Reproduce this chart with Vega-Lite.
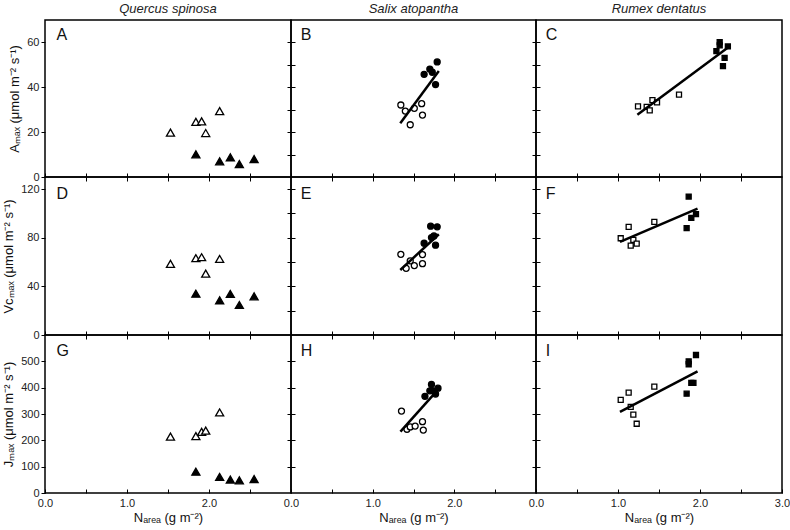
{
"$schema": "https://vega.github.io/schema/vega-lite/v6.json",
"padding": {"left": 1, "top": 2, "right": 0, "bottom": 0},
"background": "white",
"datasets": {
"d": [
{"p":"A","k":"o","x":1.53,"y":19.8},{"p":"A","k":"o","x":1.84,"y":24.6},{"p":"A","k":"o","x":1.91,"y":24.8},{"p":"A","k":"o","x":1.96,"y":19.6},{"p":"A","k":"o","x":2.13,"y":29.4},
{"p":"A","k":"f","x":1.84,"y":10.1},{"p":"A","k":"f","x":2.13,"y":7.0},{"p":"A","k":"f","x":2.26,"y":8.8},{"p":"A","k":"f","x":2.37,"y":5.8},{"p":"A","k":"f","x":2.55,"y":8.0},
{"p":"B","k":"o","x":1.345,"y":32.1},{"p":"B","k":"o","x":1.40,"y":29.4},{"p":"B","k":"o","x":1.46,"y":23.3},{"p":"B","k":"o","x":1.51,"y":30.6},{"p":"B","k":"o","x":1.60,"y":32.7},{"p":"B","k":"o","x":1.61,"y":27.6},
{"p":"B","k":"f","x":1.63,"y":45.8},{"p":"B","k":"f","x":1.70,"y":48.1},{"p":"B","k":"f","x":1.73,"y":46.7},{"p":"B","k":"f","x":1.77,"y":41.2},{"p":"B","k":"f","x":1.79,"y":51.3},
{"p":"B","k":"l","x":1.338,"y":24.0},{"p":"B","k":"l","x":1.81,"y":47.3},
{"p":"C","k":"o","x":1.244,"y":31.5},{"p":"C","k":"o","x":1.35,"y":31.3},{"p":"C","k":"o","x":1.387,"y":29.7},{"p":"C","k":"o","x":1.42,"y":34.3},{"p":"C","k":"o","x":1.476,"y":33.3},{"p":"C","k":"o","x":1.744,"y":36.7},
{"p":"C","k":"f","x":2.20,"y":56.1},{"p":"C","k":"f","x":2.24,"y":60.1},{"p":"C","k":"f","x":2.24,"y":58.7},{"p":"C","k":"f","x":2.34,"y":58.2},{"p":"C","k":"f","x":2.30,"y":53.1},{"p":"C","k":"f","x":2.28,"y":49.4},
{"p":"C","k":"l","x":1.236,"y":27.8},{"p":"C","k":"l","x":2.366,"y":58.4},
{"p":"D","k":"o","x":1.53,"y":58.5},{"p":"D","k":"o","x":1.84,"y":63.2},{"p":"D","k":"o","x":1.91,"y":64.0},{"p":"D","k":"o","x":1.96,"y":50.5},{"p":"D","k":"o","x":2.13,"y":62.6},
{"p":"D","k":"f","x":1.84,"y":34.0},{"p":"D","k":"f","x":2.13,"y":28.6},{"p":"D","k":"f","x":2.26,"y":33.8},{"p":"D","k":"f","x":2.37,"y":24.7},{"p":"D","k":"f","x":2.55,"y":31.8},
{"p":"E","k":"o","x":1.345,"y":66.4},{"p":"E","k":"o","x":1.41,"y":54.9},{"p":"E","k":"o","x":1.46,"y":61.0},{"p":"E","k":"o","x":1.51,"y":57.1},{"p":"E","k":"o","x":1.61,"y":66.2},{"p":"E","k":"o","x":1.61,"y":58.7},
{"p":"E","k":"f","x":1.63,"y":75.5},{"p":"E","k":"f","x":1.71,"y":89.5},{"p":"E","k":"f","x":1.79,"y":89.0},{"p":"E","k":"f","x":1.72,"y":80.2},{"p":"E","k":"f","x":1.75,"y":81.5},{"p":"E","k":"f","x":1.77,"y":73.9},
{"p":"E","k":"l","x":1.338,"y":53.5},{"p":"E","k":"l","x":1.81,"y":82.9},
{"p":"F","k":"o","x":1.033,"y":79.6},{"p":"F","k":"o","x":1.13,"y":89.0},{"p":"F","k":"o","x":1.155,"y":73.6},{"p":"F","k":"o","x":1.187,"y":78.3},{"p":"F","k":"o","x":1.228,"y":75.2},{"p":"F","k":"o","x":1.443,"y":93.1},
{"p":"F","k":"f","x":1.862,"y":113.9},{"p":"F","k":"f","x":1.837,"y":87.9},{"p":"F","k":"f","x":1.894,"y":96.4},{"p":"F","k":"f","x":1.951,"y":99.4},
{"p":"F","k":"l","x":1.024,"y":76.6},{"p":"F","k":"l","x":1.97,"y":104.0},
{"p":"G","k":"o","x":1.53,"y":214},{"p":"G","k":"o","x":1.84,"y":216},{"p":"G","k":"o","x":1.91,"y":232},{"p":"G","k":"o","x":1.96,"y":237},{"p":"G","k":"o","x":2.13,"y":306},
{"p":"G","k":"f","x":1.84,"y":81},{"p":"G","k":"f","x":2.13,"y":61},{"p":"G","k":"f","x":2.26,"y":51},{"p":"G","k":"f","x":2.37,"y":48},{"p":"G","k":"f","x":2.55,"y":53},
{"p":"H","k":"o","x":1.353,"y":311},{"p":"H","k":"o","x":1.42,"y":242},{"p":"H","k":"o","x":1.46,"y":251},{"p":"H","k":"o","x":1.52,"y":254},{"p":"H","k":"o","x":1.61,"y":271},{"p":"H","k":"o","x":1.62,"y":239},
{"p":"H","k":"f","x":1.64,"y":367},{"p":"H","k":"f","x":1.72,"y":412},{"p":"H","k":"f","x":1.70,"y":388},{"p":"H","k":"f","x":1.80,"y":398},{"p":"H","k":"f","x":1.77,"y":376},{"p":"H","k":"f","x":1.74,"y":388},
{"p":"H","k":"l","x":1.34,"y":233},{"p":"H","k":"l","x":1.77,"y":382},
{"p":"I","k":"o","x":1.033,"y":354},{"p":"I","k":"o","x":1.13,"y":381},{"p":"I","k":"o","x":1.155,"y":327},{"p":"I","k":"o","x":1.187,"y":298},{"p":"I","k":"o","x":1.228,"y":263},{"p":"I","k":"o","x":1.443,"y":404},
{"p":"I","k":"f","x":1.862,"y":500},{"p":"I","k":"f","x":1.862,"y":489},{"p":"I","k":"f","x":1.951,"y":524},{"p":"I","k":"f","x":1.894,"y":418},{"p":"I","k":"f","x":1.92,"y":418},{"p":"I","k":"f","x":1.837,"y":377},
{"p":"I","k":"l","x":1.024,"y":308},{"p":"I","k":"l","x":1.97,"y":462}
]
},
"columns": 3,
"spacing": 0,
"bounds": "flush",
"concat": [
{"width":246,"height":157,"title":{"text":"Quercus spinosa"},"resolve":{"axis":{"x":"independent","y":"independent"}},
 "layer":[
  {"data":{"name":"d"},"transform":[{"filter":"datum.p=='A' && datum.k!='l'"}],"mark":{"type":"point","shape":"triangle-up","filled":true,"stroke":"black","strokeWidth":1.3,"size":65,"opacity":1},
   "encoding":{"x":{"field":"x","type":"quantitative","scale":{"domain":[0,3],"nice":false,"zero":false},"axis":{"values":[0,0.5,1,1.5,2,2.5],"labels":false,"title":null,"offset":-4,"tickSize":4,"maxExtent":0}},
    "y":{"field":"y","type":"quantitative","scale":{"domain":[0,70],"nice":false},"axis":{"values":[0,20,40,60],"title":"Aₘₐₓ (μmol m⁻² s⁻¹)","tickSize":4,"labelPadding":2,"titlePadding":5}},
    "fill":{"field":"k","type":"nominal","scale":{"domain":["o","f"],"range":["white","black"]},"legend":null}}},
  {"data":{"values":[{"t":"A"}]},"mark":{"type":"text","align":"left","baseline":"middle","fontSize":16,"color":"#111"},"encoding":{"x":{"datum":0.14,"type":"quantitative","axis":null},"y":{"datum":63.5,"type":"quantitative","axis":{"orient":"right","values":[10,20,30,40,50,60],"labels":false,"title":null,"offset":-4,"tickSize":4,"maxExtent":0}},"text":{"field":"t"}}}
 ]},
{"width":245,"height":157,"title":{"text":"Salix atopantha"},"resolve":{"axis":{"x":"independent","y":"independent"}},
 "layer":[
  {"data":{"name":"d"},"transform":[{"filter":"datum.p=='B' && datum.k!='l'"}],"mark":{"type":"point","shape":"circle","filled":true,"stroke":"black","strokeWidth":1.3,"size":36,"opacity":1},
   "encoding":{"x":{"field":"x","type":"quantitative","scale":{"domain":[0,3],"nice":false,"zero":false},"axis":{"values":[0,0.5,1,1.5,2,2.5],"labels":false,"title":null,"offset":-4,"tickSize":4,"maxExtent":0}},
    "y":{"field":"y","type":"quantitative","scale":{"domain":[0,70],"nice":false},"axis":{"values":[10,20,30,40,50,60],"labels":false,"title":null,"offset":-4,"tickSize":4,"maxExtent":0}},
    "fill":{"field":"k","type":"nominal","scale":{"domain":["o","f"],"range":["white","black"]},"legend":null}}},
  {"data":{"name":"d"},"transform":[{"filter":"datum.p=='B' && datum.k=='l'"}],"mark":{"type":"line","color":"black","strokeWidth":2.5},"encoding":{"x":{"field":"x","type":"quantitative","axis":null},"y":{"field":"y","type":"quantitative","axis":null}}},
  {"data":{"values":[{"t":"B"}]},"mark":{"type":"text","align":"left","baseline":"middle","fontSize":16,"color":"#111"},"encoding":{"x":{"datum":0.12,"type":"quantitative","axis":null},"y":{"datum":63.5,"type":"quantitative","axis":{"orient":"right","values":[10,20,30,40,50,60],"labels":false,"title":null,"offset":-4,"tickSize":4,"maxExtent":0}},"text":{"field":"t"}}}
 ]},
{"width":246,"height":157,"title":{"text":"Rumex dentatus"},"resolve":{"axis":{"x":"independent","y":"independent"}},
 "layer":[
  {"data":{"name":"d"},"transform":[{"filter":"datum.p=='C' && datum.k!='l'"}],"mark":{"type":"point","shape":"square","filled":true,"stroke":"black","strokeWidth":1.3,"size":25,"opacity":1},
   "encoding":{"x":{"field":"x","type":"quantitative","scale":{"domain":[0,3],"nice":false,"zero":false},"axis":{"values":[0,0.5,1,1.5,2,2.5],"labels":false,"title":null,"offset":-4,"tickSize":4,"maxExtent":0}},
    "y":{"field":"y","type":"quantitative","scale":{"domain":[0,70],"nice":false},"axis":{"values":[10,20,30,40,50,60],"labels":false,"title":null,"offset":-4,"tickSize":4,"maxExtent":0}},
    "fill":{"field":"k","type":"nominal","scale":{"domain":["o","f"],"range":["white","black"]},"legend":null}}},
  {"data":{"name":"d"},"transform":[{"filter":"datum.p=='C' && datum.k=='l'"}],"mark":{"type":"line","color":"black","strokeWidth":2.5},"encoding":{"x":{"field":"x","type":"quantitative","axis":null},"y":{"field":"y","type":"quantitative","axis":null}}},
  {"data":{"values":[{"t":"C"}]},"mark":{"type":"text","align":"left","baseline":"middle","fontSize":16,"color":"#111"},"encoding":{"x":{"datum":0.12,"type":"quantitative","axis":null},"y":{"datum":63.5,"type":"quantitative","axis":null},"text":{"field":"t"}}}
 ]},
{"width":246,"height":158,"resolve":{"axis":{"x":"independent","y":"independent"}},
 "layer":[
  {"data":{"name":"d"},"transform":[{"filter":"datum.p=='D' && datum.k!='l'"}],"mark":{"type":"point","shape":"triangle-up","filled":true,"stroke":"black","strokeWidth":1.3,"size":65,"opacity":1},
   "encoding":{"x":{"field":"x","type":"quantitative","scale":{"domain":[0,3],"nice":false,"zero":false},"axis":{"values":[0,0.5,1,1.5,2,2.5],"labels":false,"title":null,"offset":-4,"tickSize":4,"maxExtent":0}},
    "y":{"field":"y","type":"quantitative","scale":{"domain":[0,130],"nice":false},"axis":{"values":[0,40,80,120],"title":"Vᴄₘₐₓ (μmol m⁻² s⁻¹)","tickSize":4,"labelPadding":2,"titlePadding":5}},
    "fill":{"field":"k","type":"nominal","scale":{"domain":["o","f"],"range":["white","black"]},"legend":null}}},
  {"data":{"values":[{"t":"D"}]},"mark":{"type":"text","align":"left","baseline":"middle","fontSize":16,"color":"#111"},"encoding":{"x":{"datum":0.14,"type":"quantitative","axis":{"orient":"top","values":[0.5,1,1.5,2,2.5],"labels":false,"title":null,"offset":-4,"tickSize":4,"maxExtent":0}},"y":{"datum":116,"type":"quantitative","axis":{"orient":"right","values":[20,40,60,80,100,120],"labels":false,"title":null,"offset":-4,"tickSize":4,"maxExtent":0}},"text":{"field":"t"}}}
 ]},
{"width":245,"height":158,"resolve":{"axis":{"x":"independent","y":"independent"}},
 "layer":[
  {"data":{"name":"d"},"transform":[{"filter":"datum.p=='E' && datum.k!='l'"}],"mark":{"type":"point","shape":"circle","filled":true,"stroke":"black","strokeWidth":1.3,"size":36,"opacity":1},
   "encoding":{"x":{"field":"x","type":"quantitative","scale":{"domain":[0,3],"nice":false,"zero":false},"axis":{"values":[0,0.5,1,1.5,2,2.5],"labels":false,"title":null,"offset":-4,"tickSize":4,"maxExtent":0}},
    "y":{"field":"y","type":"quantitative","scale":{"domain":[0,130],"nice":false},"axis":{"values":[20,40,60,80,100,120],"labels":false,"title":null,"offset":-4,"tickSize":4,"maxExtent":0}},
    "fill":{"field":"k","type":"nominal","scale":{"domain":["o","f"],"range":["white","black"]},"legend":null}}},
  {"data":{"name":"d"},"transform":[{"filter":"datum.p=='E' && datum.k=='l'"}],"mark":{"type":"line","color":"black","strokeWidth":2.5},"encoding":{"x":{"field":"x","type":"quantitative","axis":null},"y":{"field":"y","type":"quantitative","axis":null}}},
  {"data":{"values":[{"t":"E"}]},"mark":{"type":"text","align":"left","baseline":"middle","fontSize":16,"color":"#111"},"encoding":{"x":{"datum":0.12,"type":"quantitative","axis":{"orient":"top","values":[0.5,1,1.5,2,2.5],"labels":false,"title":null,"offset":-4,"tickSize":4,"maxExtent":0}},"y":{"datum":116,"type":"quantitative","axis":{"orient":"right","values":[20,40,60,80,100,120],"labels":false,"title":null,"offset":-4,"tickSize":4,"maxExtent":0}},"text":{"field":"t"}}}
 ]},
{"width":246,"height":158,"resolve":{"axis":{"x":"independent","y":"independent"}},
 "layer":[
  {"data":{"name":"d"},"transform":[{"filter":"datum.p=='F' && datum.k!='l'"}],"mark":{"type":"point","shape":"square","filled":true,"stroke":"black","strokeWidth":1.3,"size":25,"opacity":1},
   "encoding":{"x":{"field":"x","type":"quantitative","scale":{"domain":[0,3],"nice":false,"zero":false},"axis":{"values":[0,0.5,1,1.5,2,2.5],"labels":false,"title":null,"offset":-4,"tickSize":4,"maxExtent":0}},
    "y":{"field":"y","type":"quantitative","scale":{"domain":[0,130],"nice":false},"axis":{"values":[20,40,60,80,100,120],"labels":false,"title":null,"offset":-4,"tickSize":4,"maxExtent":0}},
    "fill":{"field":"k","type":"nominal","scale":{"domain":["o","f"],"range":["white","black"]},"legend":null}}},
  {"data":{"name":"d"},"transform":[{"filter":"datum.p=='F' && datum.k=='l'"}],"mark":{"type":"line","color":"black","strokeWidth":2.5},"encoding":{"x":{"field":"x","type":"quantitative","axis":null},"y":{"field":"y","type":"quantitative","axis":null}}},
  {"data":{"values":[{"t":"F"}]},"mark":{"type":"text","align":"left","baseline":"middle","fontSize":16,"color":"#111"},"encoding":{"x":{"datum":0.12,"type":"quantitative","axis":{"orient":"top","values":[0.5,1,1.5,2,2.5],"labels":false,"title":null,"offset":-4,"tickSize":4,"maxExtent":0}},"y":{"datum":116,"type":"quantitative","axis":null},"text":{"field":"t"}}}
 ]},
{"width":246,"height":158,"resolve":{"axis":{"x":"independent","y":"independent"}},
 "layer":[
  {"data":{"name":"d"},"transform":[{"filter":"datum.p=='G' && datum.k!='l'"}],"mark":{"type":"point","shape":"triangle-up","filled":true,"stroke":"black","strokeWidth":1.3,"size":65,"opacity":1},
   "encoding":{"x":{"field":"x","type":"quantitative","scale":{"domain":[0,3],"nice":false,"zero":false},"axis":{"values":[0,0.5,1,1.5,2,2.5],"labelExpr":"datum.value % 1 == 0 ? format(datum.value, '.1f') : ''","title":"Nₐᵣₑₐ (g m⁻²)","offset":-4,"tickSize":4,"labelPadding":4,"titlePadding":3}},
    "y":{"field":"y","type":"quantitative","scale":{"domain":[0,600],"nice":false},"axis":{"values":[0,100,200,300,400,500],"title":"Jₘₐₓ (μmol m⁻² s⁻¹)","tickSize":4,"labelPadding":2,"titlePadding":5}},
    "fill":{"field":"k","type":"nominal","scale":{"domain":["o","f"],"range":["white","black"]},"legend":null}}},
  {"data":{"values":[{"t":"G"}]},"mark":{"type":"text","align":"left","baseline":"middle","fontSize":16,"color":"#111"},"encoding":{"x":{"datum":0.14,"type":"quantitative","axis":{"orient":"top","values":[0.5,1,1.5,2,2.5],"labels":false,"title":null,"offset":-4,"tickSize":4,"maxExtent":0}},"y":{"datum":540,"type":"quantitative","axis":{"orient":"right","values":[100,200,300,400,500],"labels":false,"title":null,"offset":-4,"tickSize":4,"maxExtent":0}},"text":{"field":"t"}}}
 ]},
{"width":245,"height":158,"resolve":{"axis":{"x":"independent","y":"independent"}},
 "layer":[
  {"data":{"name":"d"},"transform":[{"filter":"datum.p=='H' && datum.k!='l'"}],"mark":{"type":"point","shape":"circle","filled":true,"stroke":"black","strokeWidth":1.3,"size":36,"opacity":1},
   "encoding":{"x":{"field":"x","type":"quantitative","scale":{"domain":[0,3],"nice":false,"zero":false},"axis":{"values":[0,0.5,1,1.5,2,2.5],"labelExpr":"datum.value % 1 == 0 ? format(datum.value, '.1f') : ''","title":"Nₐᵣₑₐ (g m⁻²)","offset":-4,"tickSize":4,"labelPadding":4,"titlePadding":3}},
    "y":{"field":"y","type":"quantitative","scale":{"domain":[0,600],"nice":false},"axis":{"values":[100,200,300,400,500],"labels":false,"title":null,"offset":-4,"tickSize":4,"maxExtent":0}},
    "fill":{"field":"k","type":"nominal","scale":{"domain":["o","f"],"range":["white","black"]},"legend":null}}},
  {"data":{"name":"d"},"transform":[{"filter":"datum.p=='H' && datum.k=='l'"}],"mark":{"type":"line","color":"black","strokeWidth":2.5},"encoding":{"x":{"field":"x","type":"quantitative","axis":null},"y":{"field":"y","type":"quantitative","axis":null}}},
  {"data":{"values":[{"t":"H"}]},"mark":{"type":"text","align":"left","baseline":"middle","fontSize":16,"color":"#111"},"encoding":{"x":{"datum":0.12,"type":"quantitative","axis":{"orient":"top","values":[0.5,1,1.5,2,2.5],"labels":false,"title":null,"offset":-4,"tickSize":4,"maxExtent":0}},"y":{"datum":540,"type":"quantitative","axis":{"orient":"right","values":[100,200,300,400,500],"labels":false,"title":null,"offset":-4,"tickSize":4,"maxExtent":0}},"text":{"field":"t"}}}
 ]},
{"width":246,"height":158,"resolve":{"axis":{"x":"independent","y":"independent"}},
 "layer":[
  {"data":{"name":"d"},"transform":[{"filter":"datum.p=='I' && datum.k!='l'"}],"mark":{"type":"point","shape":"square","filled":true,"stroke":"black","strokeWidth":1.3,"size":25,"opacity":1},
   "encoding":{"x":{"field":"x","type":"quantitative","scale":{"domain":[0,3],"nice":false,"zero":false},"axis":{"values":[0,0.5,1,1.5,2,2.5,3],"labelExpr":"datum.value % 1 == 0 ? format(datum.value, '.1f') : ''","title":"Nₐᵣₑₐ (g m⁻²)","offset":-4,"tickSize":4,"labelPadding":4,"titlePadding":3}},
    "y":{"field":"y","type":"quantitative","scale":{"domain":[0,600],"nice":false},"axis":{"values":[100,200,300,400,500],"labels":false,"title":null,"offset":-4,"tickSize":4,"maxExtent":0}},
    "fill":{"field":"k","type":"nominal","scale":{"domain":["o","f"],"range":["white","black"]},"legend":null}}},
  {"data":{"name":"d"},"transform":[{"filter":"datum.p=='I' && datum.k=='l'"}],"mark":{"type":"line","color":"black","strokeWidth":2.5},"encoding":{"x":{"field":"x","type":"quantitative","axis":null},"y":{"field":"y","type":"quantitative","axis":null}}},
  {"data":{"values":[{"t":"I"}]},"mark":{"type":"text","align":"left","baseline":"middle","fontSize":16,"color":"#111"},"encoding":{"x":{"datum":0.12,"type":"quantitative","axis":{"orient":"top","values":[0.5,1,1.5,2,2.5],"labels":false,"title":null,"offset":-4,"tickSize":4,"maxExtent":0}},"y":{"datum":540,"type":"quantitative","axis":null},"text":{"field":"t"}}}
 ]}
],
"config": {
 "font": "Liberation Sans",
 "view": {"stroke": "black", "strokeWidth": 1.5},
 "concat": {"spacing": 0},
 "title": {"fontStyle": "italic", "fontWeight": "normal", "fontSize": 13, "color": "#222", "offset": 4, "font": "Liberation Sans"},
 "axis": {"labelFont": "Liberation Sans", "labelFontSize": 11, "labelColor": "#222", "titleFont": "Liberation Sans", "titleFontSize": 13, "titleFontWeight": "normal", "titleColor": "#111", "tickColor": "black", "grid": false, "domain": false, "labelOverlap": false, "labelFlush": false, "minExtent": 0, "tickWidth": 1}
}
}
